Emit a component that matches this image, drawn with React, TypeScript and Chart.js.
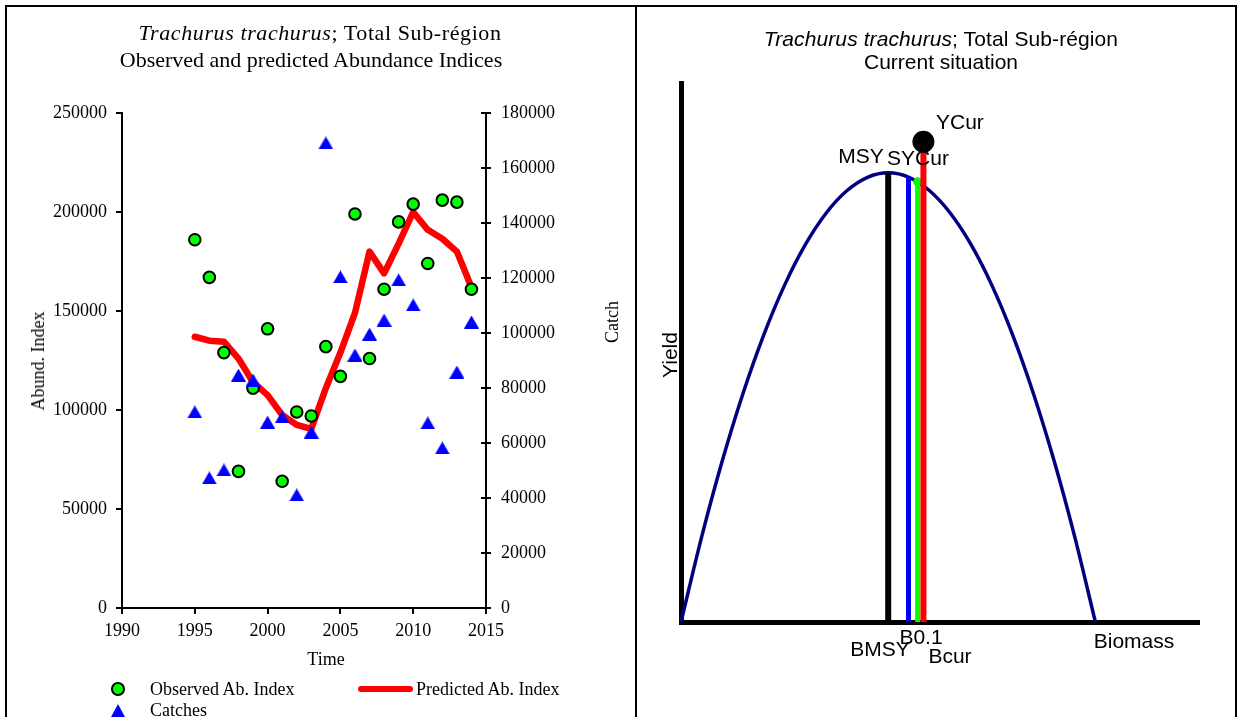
import React, { useEffect, useRef } from 'react';
import { Chart, registerables } from 'chart.js';

Chart.register(...registerables);

// ---------- Left chart data ----------
const years = [1995, 1996, 1997, 1998, 1999, 2000, 2001, 2002, 2003, 2004, 2005, 2006, 2007, 2008, 2009, 2010, 2011, 2012, 2013, 2014];
const observedIndex = [186000, 167000, 129000, 69000, 111000, 141000, 64000, 99000, 97000, 132000, 117000, 199000, 126000, 161000, 195000, 204000, 174000, 206000, 205000, 161000];
const predictedIndex = [137000, 135000, 134500, 126000, 114000, 107500, 97500, 92500, 90500, 111000, 129000, 149000, 180000, 169000, 184000, 200000, 191000, 186500, 180000, 162000];
const catches = [71300, 47300, 50200, 84700, 82900, 67600, 69500, 41100, 64000, 169100, 120400, 92000, 99600, 104700, 119300, 110200, 67300, 58200, 85800, 104000];
const timeTicks = [1990, 1995, 2000, 2005, 2010, 2015];
const abundTicks = [0, 50000, 100000, 150000, 200000, 250000];
const catchTicks = [0, 20000, 40000, 60000, 80000, 100000, 120000, 140000, 160000, 180000];

// ---------- Right chart data (relative units: biomass / K, yield / MSY) ----------
const curveBiomass = [0, 0.05, 0.1, 0.15, 0.2, 0.25, 0.3, 0.35, 0.4, 0.45, 0.5, 0.55, 0.6, 0.65, 0.7, 0.75, 0.8, 0.85, 0.9, 0.95, 1.0];
const curveYield = [0, 0.19, 0.36, 0.51, 0.64, 0.75, 0.84, 0.91, 0.96, 0.99, 1.0, 0.99, 0.96, 0.91, 0.84, 0.75, 0.64, 0.51, 0.36, 0.19, 0];
const bmsyLine = [0.5, 1.0]; // [biomass, yield]
const b01Line = [0.549, 0.99];
const bcurLine = [0.571, 0.98];
const ycurPoint = [0.585, 1.069];

const SERIF = "'Liberation Serif', 'Times New Roman', serif";
const SANS = "'Liberation Sans', Arial, sans-serif";

type LabelProps = {
  x: number; y: number; size: number; family: string;
  align?: 'left' | 'center' | 'right'; rotate?: boolean; spacing?: number; children: React.ReactNode;
};
function Label({ x, y, size, family, align = 'center', rotate = false, spacing = 0, children }: LabelProps) {
  const tx = align === 'left' ? '0' : align === 'right' ? '-100%' : '-50%';
  return (
    <div style={{
      position: 'absolute', left: x, top: y,
      transform: `translate(${tx}, -50%)${rotate ? ' rotate(-90deg)' : ''}`,
      fontFamily: family, fontSize: size, lineHeight: 1, whiteSpace: 'nowrap', color: '#000',
      letterSpacing: spacing,
    }}>{children}</div>
  );
}

function makeTriangle(color: string) {
  const c = document.createElement('canvas');
  c.width = 15; c.height = 13;
  const ctx = c.getContext('2d')!;
  ctx.fillStyle = color;
  ctx.beginPath();
  ctx.moveTo(7.5, 0);
  ctx.lineTo(15, 13);
  ctx.lineTo(0, 13);
  ctx.closePath();
  ctx.fill();
  return c;
}

export default function App() {
  const leftRef = useRef<HTMLCanvasElement>(null);
  const rightRef = useRef<HTMLCanvasElement>(null);

  useEffect(() => {
    const tri = makeTriangle('#0000FF');
    const tickFont = { family: SERIF, size: 18 };

    const crossTicks = {
      id: 'crossTicks',
      afterDraw(chart: any) {
        const s = chart.scales.y2;
        const ctx = chart.ctx;
        ctx.save();
        ctx.strokeStyle = '#000';
        ctx.lineWidth = 2;
        s.ticks.forEach((t: any) => {
          const py = Math.round(s.getPixelForValue(t.value));
          ctx.beginPath();
          ctx.moveTo(chart.chartArea.right - 5, py);
          ctx.lineTo(chart.chartArea.right, py);
          ctx.stroke();
        });
        ctx.restore();
      },
    };

    const left = new Chart(leftRef.current!, {
      type: 'scatter',
      data: {
        datasets: [
          {
            label: 'Catches',
            data: years.map((yr, i) => ({ x: yr, y: catches[i] })),
            yAxisID: 'y2',
            pointStyle: tri as any,
            pointRadius: 8,
            backgroundColor: '#0000FF',
            borderColor: '#0000FF',
            order: 0,
          } as any,
          {
            label: 'Observed Ab. Index',
            data: years.map((yr, i) => ({ x: yr, y: observedIndex[i] })),
            yAxisID: 'y',
            pointStyle: 'circle',
            pointRadius: 5.8,
            borderWidth: 2,
            borderColor: '#000000',
            backgroundColor: '#00FF00',
            order: 1,
          },
          {
            label: 'Predicted Ab. Index',
            type: 'line',
            data: years.map((yr, i) => ({ x: yr, y: predictedIndex[i] })),
            yAxisID: 'y',
            showLine: true,
            borderColor: '#FF0000',
            backgroundColor: '#FF0000',
            borderWidth: 6.5,
            pointRadius: 0,
            fill: false,
            tension: 0,
            borderJoinStyle: 'round',
            borderCapStyle: 'round',
            order: 2,
          } as any,
        ],
      },
      options: {
        responsive: false,
        maintainAspectRatio: false,
        animation: false,
        layout: { padding: { top: 113, left: 0, right: 0, bottom: 0 } },
        plugins: { legend: { display: false }, title: { display: false }, tooltip: { enabled: false } },
        scales: {
          x: {
            type: 'linear', position: 'bottom', min: 1990, max: 2015,
            afterBuildTicks: (s: any) => { s.ticks = timeTicks.map(v => ({ value: v })); },
            afterFit: (s: any) => { s.height = 109; },
            ticks: { font: tickFont, color: '#000', padding: 6, callback: (v: any) => String(v), maxRotation: 0, autoSkip: false },
            grid: { display: true, drawOnChartArea: false, drawTicks: true, tickLength: 6, color: '#000', lineWidth: 2 },
            border: { display: true, color: '#000', width: 2 },
          },
          y: {
            type: 'linear', position: 'left', min: 0, max: 250000,
            afterBuildTicks: (s: any) => { s.ticks = abundTicks.map(v => ({ value: v })); },
            afterFit: (s: any) => { s.width = 122; },
            ticks: { font: tickFont, color: '#000', padding: 9, callback: (v: any) => String(v), autoSkip: false },
            grid: { display: true, drawOnChartArea: false, drawTicks: true, tickLength: 6, color: '#000', lineWidth: 2 },
            border: { display: true, color: '#000', width: 2 },
          },
          y2: {
            type: 'linear', position: 'right', min: 0, max: 180000,
            afterBuildTicks: (s: any) => { s.ticks = catchTicks.map(v => ({ value: v })); },
            afterFit: (s: any) => { s.width = 150; },
            ticks: { font: tickFont, color: '#000', padding: 10, callback: (v: any) => String(v), autoSkip: false },
            grid: { display: true, drawOnChartArea: false, drawTicks: true, tickLength: 5, color: '#000', lineWidth: 2 },
            border: { display: true, color: '#000', width: 2 },
          },
        },
      } as any,
      plugins: [crossTicks],
    });

    const vline = (label: string, b: number, y: number, color: string, width: number, order: number) => ({
      label, type: 'line',
      data: [{ x: b, y: 0 }, { x: b, y }],
      borderColor: color, backgroundColor: color, borderWidth: width,
      pointRadius: 0, fill: false, tension: 0, order, clip: false,
    });

    const right = new Chart(rightRef.current!, {
      type: 'scatter',
      data: {
        datasets: [
          {
            label: 'Production curve', type: 'line',
            data: curveBiomass.map((b, i) => ({ x: b, y: curveYield[i] })),
            borderColor: '#000080', backgroundColor: '#000080', borderWidth: 3.5,
            pointRadius: 0, fill: false, tension: 0.3, cubicInterpolationMode: 'monotone', order: 10, clip: false,
          },
          vline('BMSY', bmsyLine[0], bmsyLine[1], '#000000', 6, 6),
          vline('B0.1', b01Line[0], b01Line[1], '#0000FF', 5, 5),
          vline('Bcur', bcurLine[0], bcurLine[1], '#00FF00', 5, 4),
          {
            label: 'SYCur', data: [{ x: bcurLine[0], y: bcurLine[1] }],
            pointRadius: 4.5, borderWidth: 0, backgroundColor: '#00FF00', borderColor: '#00FF00', order: 3, clip: false,
          },
          vline('YCur line', ycurPoint[0], ycurPoint[1], '#FF0000', 6, 2),
          {
            label: 'YCur', data: [{ x: ycurPoint[0], y: ycurPoint[1] }],
            pointRadius: 11, borderWidth: 0, backgroundColor: '#000000', borderColor: '#000000', order: 1, clip: false,
          },
        ] as any,
      },
      options: {
        responsive: false,
        maintainAspectRatio: false,
        animation: false,
        layout: { padding: { top: 83, left: 45, right: 41, bottom: 95 } },
        plugins: { legend: { display: false }, title: { display: false }, tooltip: { enabled: false } },
        scales: {
          x: {
            type: 'linear', position: 'bottom', min: 0, max: 1.25,
            afterFit: (s: any) => { s.height = 0; },
            ticks: { display: false },
            grid: { display: false },
            border: { display: true, color: '#000', width: 5 },
          },
          y: {
            type: 'linear', position: 'left', min: 0, max: 1.2,
            afterFit: (s: any) => { s.width = 0; },
            ticks: { display: false },
            grid: { display: false },
            border: { display: true, color: '#000', width: 5 },
          },
        },
      } as any,
    });

    return () => { left.destroy(); right.destroy(); };
  }, []);

  const line = (l: number, t: number, w: number, h: number) => (
    <div style={{ position: 'absolute', left: l, top: t, width: w, height: h, background: '#000' }} />
  );

  return (
    <div style={{ position: 'absolute', left: 0, top: 0, width: 1240, height: 717, background: '#fff', overflow: 'hidden' }}>
      <canvas ref={leftRef} width={636} height={717} style={{ position: 'absolute', left: 0, top: 0, width: 636, height: 717 }} />
      <canvas ref={rightRef} width={604} height={717} style={{ position: 'absolute', left: 636, top: 0, width: 604, height: 717 }} />

      {/* frame */}
      {line(5, 5, 1232, 2)}
      {line(5, 5, 2, 712)}
      {line(635, 5, 2, 712)}
      {line(1235, 5, 2, 712)}

      {/* left titles */}
      <Label x={320} y={33} size={22} family={SERIF} spacing={0.6}><i>Trachurus trachurus</i>; Total Sub-région</Label>
      <Label x={311} y={60} size={22} family={SERIF}>Observed and predicted Abundance Indices</Label>
      <Label x={38} y={361} size={18} family={SERIF} rotate>Abund. Index</Label>
      <Label x={612} y={322} size={18} family={SERIF} rotate>Catch</Label>
      <Label x={326} y={659} size={18} family={SERIF}>Time</Label>

      {/* left legend */}
      <div style={{ position: 'absolute', left: 118 - 6.8, top: 689 - 6.8, width: 9.6, height: 9.6, borderRadius: '50%', background: '#00FF00', border: '2px solid #000' }} />
      <Label x={150} y={689} size={18} family={SERIF} align="left">Observed Ab. Index</Label>
      <div style={{ position: 'absolute', left: 358, top: 686, width: 55, height: 6, borderRadius: 3, background: '#FF0000' }} />
      <Label x={416} y={689} size={18} family={SERIF} align="left">Predicted Ab. Index</Label>
      <div style={{ position: 'absolute', left: 118 - 7.5, top: 710 - 6.5, width: 0, height: 0, borderLeft: '7.5px solid transparent', borderRight: '7.5px solid transparent', borderBottom: '13px solid #0000FF' }} />
      <Label x={150} y={710} size={18} family={SERIF} align="left">Catches</Label>

      {/* right titles and labels */}
      <Label x={941} y={38} size={21} family={SANS} spacing={0.1}><i>Trachurus trachurus</i>; Total Sub-région</Label>
      <Label x={941} y={61} size={21} family={SANS}>Current situation</Label>
      <Label x={669} y={355} size={21} family={SANS} rotate>Yield</Label>
      <Label x={936} y={121} size={21} family={SANS} align="left">YCur</Label>
      <Label x={861} y={155} size={21} family={SANS}>MSY</Label>
      <Label x={918} y={157} size={21} family={SANS}>SYCur</Label>
      <Label x={880} y={648} size={21} family={SANS}>BMSY</Label>
      <Label x={921} y={636} size={21} family={SANS}>B0.1</Label>
      <Label x={950} y={655} size={21} family={SANS}>Bcur</Label>
      <Label x={1134} y={640} size={21} family={SANS}>Biomass</Label>
    </div>
  );
}
